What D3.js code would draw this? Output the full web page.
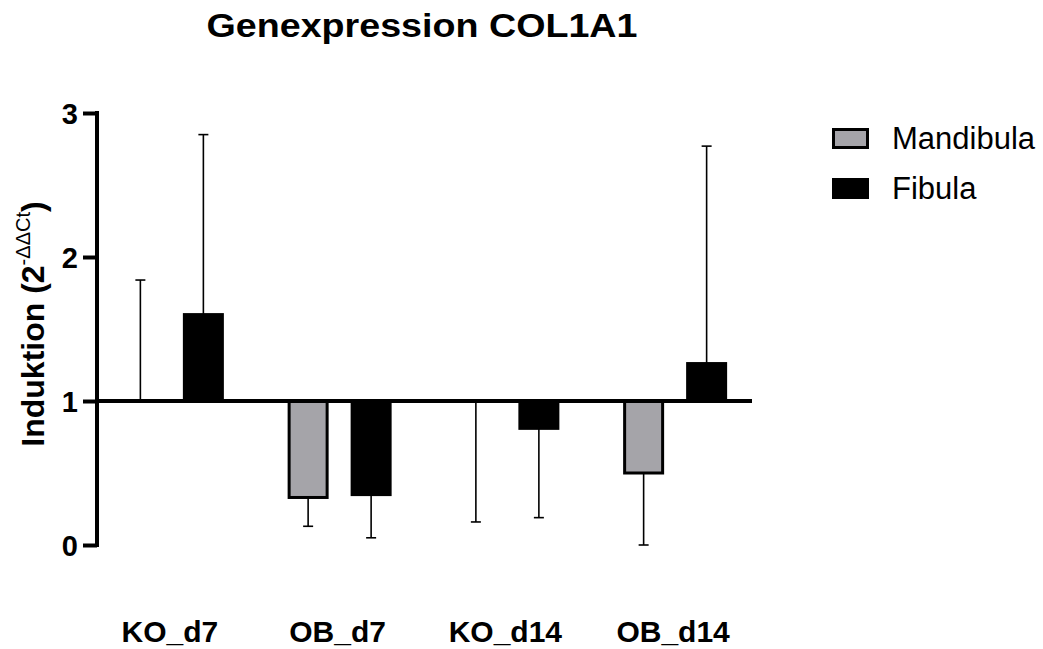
<!DOCTYPE html>
<html>
<head>
<meta charset="utf-8">
<script src="https://cdn.jsdelivr.net/npm/d3@7"></script>
<style>
  body { margin: 0; background: #fff; }
  text { font-family: Arial, "Liberation Sans", sans-serif; }
</style>
</head>
<body>
<script>
// data
var groups = ["KO_d7", "OB_d7", "KO_d14", "OB_d14"];
var seriesNames = ["Mandibula", "Fibula"];
var mandibula = [1.0, 0.33, 1.0, 0.50];
var mandibulaErr = [1.84, 0.13, 0.16, 0.0];   // error bar tips
var fibula = [1.60, 0.35, 0.81, 1.26];
var fibulaErr = [2.85, 0.05, 0.19, 2.77];
var yTicks = [0, 1, 2, 3];

var width = 1043, height = 649;

var svg = d3.select("body").append("svg")
  .attr("width", width)
  .attr("height", height);

var yScale = d3.scaleLinear().domain([0, 3]).range([545, 113]);
var xScale = d3.scaleBand().domain(groups).range([88, 759]);
var xInner = d3.scalePoint().domain(seriesNames).range([-31.5, 31.5]);
var colors = {"Mandibula": "#a5a4a9", "Fibula": "#000"};

var rows = [];
groups.forEach(function(g, i) {
  rows.push({group: g, series: "Mandibula", value: mandibula[i], tip: mandibulaErr[i]});
  rows.push({group: g, series: "Fibula", value: fibula[i], tip: fibulaErr[i]});
});
function gx(g) { return xScale(g) + xScale.bandwidth() / 2; }
function cx(d) { return gx(d.group) + xInner(d.series); }

// title
svg.append("text")
  .attr("x", 422).attr("y", 37)
  .attr("text-anchor", "middle")
  .attr("textLength", 431).attr("lengthAdjust", "spacingAndGlyphs")
  .style("font-size", "33px").style("font-weight", "bold")
  .text("Genexpression COL1A1");

// error bars (drawn first, bars cover them)
var eb = svg.append("g").attr("stroke", "#000").attr("stroke-width", 1.6);
eb.selectAll(".err").data(rows).enter().append("line")
  .attr("x1", cx).attr("x2", cx)
  .attr("y1", function(d) { return yScale(d.value); })
  .attr("y2", function(d) { return yScale(d.tip); });
eb.selectAll(".cap").data(rows).enter().append("line")
  .attr("x1", function(d) { return cx(d) - 5; })
  .attr("x2", function(d) { return cx(d) + 5; })
  .attr("y1", function(d) { return yScale(d.tip); })
  .attr("y2", function(d) { return yScale(d.tip); });

// bars, relative to baseline 1
svg.selectAll(".bar").data(rows).enter().append("rect")
  .attr("class", "bar")
  .attr("x", function(d) { return cx(d) - 19; })
  .attr("width", 38)
  .attr("y", function(d) { return yScale(Math.max(d.value, 1)); })
  .attr("height", function(d) { return Math.abs(yScale(d.value) - yScale(1)); })
  .attr("fill", function(d) { return colors[d.series]; })
  .attr("stroke", "#000")
  .attr("stroke-width", function(d) { return d.value === 1 ? 0 : 3; });

// baseline at 1
svg.append("line")
  .attr("x1", 97).attr("x2", 752)
  .attr("y1", yScale(1)).attr("y2", yScale(1))
  .attr("stroke", "#000").attr("stroke-width", 4);

// y axis
var yAxis = d3.axisLeft(yScale).tickValues(yTicks).tickSize(14).tickPadding(5).tickFormat(d3.format("d"));
var gy = svg.append("g")
  .attr("transform", "translate(97,0)")
  .call(yAxis);
gy.select(".domain").attr("stroke-width", 4).attr("d", "M0," + (yScale(3) - 2) + "V" + (yScale(0) + 2));
gy.selectAll(".tick line").attr("stroke-width", 4);
gy.selectAll(".tick text")
  .attr("dy", "0.36em")
  .style("font-size", "29px").style("font-weight", "bold")
  .style("font-family", "Arial, 'Liberation Sans', sans-serif");

// y label
var yl = svg.append("text")
  .attr("transform", "translate(44,324) rotate(-90)")
  .attr("text-anchor", "middle")
  .style("font-size", "32px").style("font-weight", "bold");
yl.append("tspan").text("Induktion (2");
yl.append("tspan").attr("dy", -14).style("font-size", "20px").style("font-weight", "normal").text("-ΔΔCt");
yl.append("tspan").attr("dy", 14).text(")");

// x labels
svg.selectAll(".xlab").data(groups).enter().append("text")
  .attr("x", function(d) { return gx(d) - 2; })
  .attr("y", 642)
  .attr("text-anchor", "middle")
  .style("font-size", "30px").style("font-weight", "bold")
  .text(function(d) { return d; });

// legend
var lg = svg.selectAll(".lg").data(seriesNames).enter().append("g")
  .attr("transform", function(d, i) { return "translate(832," + (128 + i * 50) + ")"; });
lg.append("rect")
  .attr("x", 1.5).attr("y", 1.5).attr("width", 34).attr("height", 18)
  .attr("fill", function(d) { return colors[d]; })
  .attr("stroke", "#000").attr("stroke-width", 3);
lg.append("text")
  .attr("x", 60).attr("y", 21)
  .style("font-size", "31px")
  .text(function(d) { return d; });
</script>
</body>
</html>
